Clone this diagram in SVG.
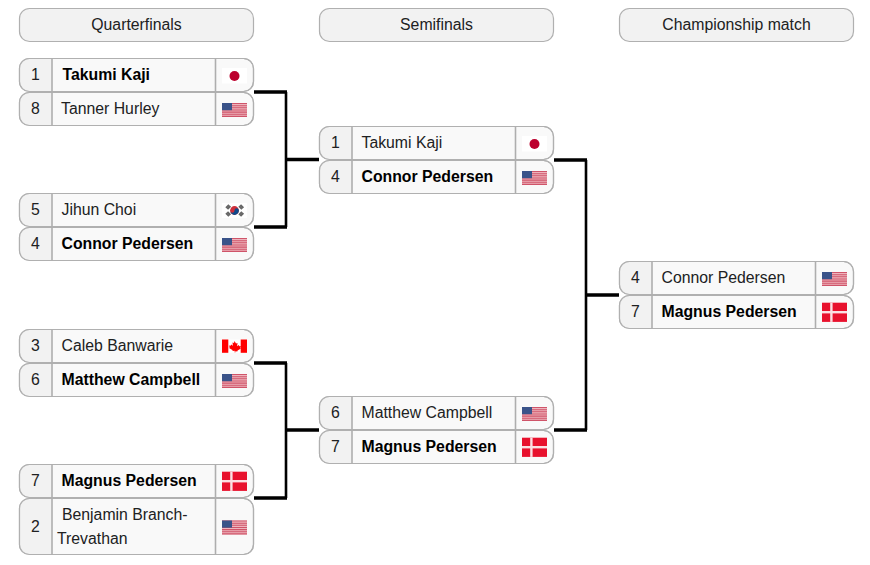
<svg xmlns="http://www.w3.org/2000/svg" width="870" height="565" viewBox="0 0 870 565">
<style>
text{font-family:"Liberation Sans",Arial,sans-serif;font-size:15.8px;fill:#202122}
.b{font-weight:bold;fill:#000}
.s{text-anchor:middle}
.box{fill:#f9f9f9;stroke:#b0b0b0;stroke-width:1.2}
.line{fill:none;stroke:#b0b0b0;stroke-width:1.2}
.seed{fill:#f2f2f2}
.head{fill:#f2f2f2;stroke:#b0b0b0;stroke-width:1.2}
.div{stroke:#aeaeae;stroke-width:1.6;fill:none}
.h{stroke:#000;stroke-width:3.6;fill:none}
.v{stroke:#000;stroke-width:2.6;fill:none}
</style>
<defs>
<g id="us"><rect width="25" height="14" fill="#eeb4bd"/>
<path d="M0 .5H25M0 2.7H25M0 4.8H25M0 7H25M0 9.1H25M0 11.3H25M0 13.4H25" stroke="#cf5469" stroke-width="1.1" fill="none"/>
<rect width="10" height="7.2" fill="#3a5389"/></g>
<g id="jp"><rect width="25" height="15.500" fill="#fff"/><circle cx="12.500" cy="8" r="5" fill="#bc002d"/></g>
<g id="dk"><rect width="25" height="19.200" fill="#e8112d"/><rect x="8.200" width="2.400" height="19.200" fill="#fbdfe3"/><rect y="8.300" width="25" height="2.400" fill="#fbdfe3"/></g>
<g id="ca"><rect width="25" height="13.300" fill="#fff"/><rect width="6.300" height="13.300" fill="#f00"/><rect x="18.700" width="6.300" height="13.300" fill="#f00"/><path d="M12.500 1.500L14 4l1.500-.6-.4 3.400 1.700-1.300.6 1.300 1.500-.2-.6 2 .6.500-3.300 2-.3 1-2-.3V13h-.6v-1.700l-2 .3-.3-1-3.300-2 .6-.5-.6-2 1.500.2.600-1.300 1.700 1.300-.4-3.400 1.500.6z" fill="#f00"/></g>
<g id="kr"><rect width="25" height="15" fill="#fff"/><circle cx="12.500" cy="7.500" r="4.400" fill="#cd2e3a"/><path d="M8.100 7.500a4.400 4.400 0 0 0 8.800 0a2.200 2.200 0 0 0-4.400 0a2.200 2.200 0 0 1-4.400 0z" fill="#0f4a8a"/><path d="M4 4.800L7 1.800M5.400 6.200L8.400 3.200M17 3.200L20 6.200M18.400 1.800L21.400 4.800M4 10.200L7 13.200M5.400 8.800L8.400 11.800M17 11.800L20 8.800M18.400 13.200L21.400 10.200" stroke="#666" stroke-width="1.900" fill="none"/></g>
</defs>
<g id="connectors">
<path class="h" d="M254 92H287M254 227H287M286 159.500H319"/><path class="v" d="M286 92V227"/>
<path class="h" d="M254 363H287M254 498H287M286 430H319"/><path class="v" d="M286 363V498"/>
<path class="h" d="M554 160H587M554 430H587M586 295H619"/><path class="v" d="M586 160V430"/>
</g>
<g id="head-qf"><rect class="head" x="19.500" y="8.500" width="234" height="33" rx="10"/><text class="s" x="136.500" y="30">Quarterfinals</text></g>
<g id="head-sf"><rect class="head" x="319.500" y="8.500" width="234" height="33" rx="10"/><text class="s" x="436.500" y="30">Semifinals</text></g>
<g id="head-f"><rect class="head" x="619.500" y="8.500" width="234" height="33" rx="10"/><text class="s" x="736.500" y="30">Championship match</text></g>

<g id="qf1-1" transform="translate(19.500 58.500)"><rect class="box" width="234" height="33" rx="10"/><path class="seed" d="M32.500 0H10A10 10 0 0 0 0 10V23A10 10 0 0 0 10 33H32.500Z"/><rect class="line" width="234" height="33" rx="10"/><path class="div" d="M32.500 0V33M196 0V33"/><text class="s" x="16" y="21.500">1</text><text class="b" x="43" y="21.500">Takumi Kaji</text><use href="#jp" x="202.500" y="9.500"/></g>
<g id="qf1-2" transform="translate(19.500 92.500)"><rect class="box" width="234" height="33" rx="10"/><path class="seed" d="M32.500 0H10A10 10 0 0 0 0 10V23A10 10 0 0 0 10 33H32.500Z"/><rect class="line" width="234" height="33" rx="10"/><path class="div" d="M32.500 0V33M196 0V33"/><text class="s" x="16" y="21.500">8</text><text x="41.500" y="21.500">Tanner Hurley</text><use href="#us" x="202.500" y="10.500"/></g>
<g id="qf2-1" transform="translate(19.500 193.500)"><rect class="box" width="234" height="33" rx="10"/><path class="seed" d="M32.500 0H10A10 10 0 0 0 0 10V23A10 10 0 0 0 10 33H32.500Z"/><rect class="line" width="234" height="33" rx="10"/><path class="div" d="M32.500 0V33M196 0V33"/><text class="s" x="16" y="21.500">5</text><text x="42" y="21.500">Jihun Choi</text><use href="#kr" x="202.500" y="9.500"/></g>
<g id="qf2-2" transform="translate(19.500 227.500)"><rect class="box" width="234" height="33" rx="10"/><path class="seed" d="M32.500 0H10A10 10 0 0 0 0 10V23A10 10 0 0 0 10 33H32.500Z"/><rect class="line" width="234" height="33" rx="10"/><path class="div" d="M32.500 0V33M196 0V33"/><text class="s" x="16" y="21.500">4</text><text class="b" x="42" y="21.500">Connor Pedersen</text><use href="#us" x="202.500" y="10.500"/></g>
<g id="qf3-1" transform="translate(19.500 329.500)"><rect class="box" width="234" height="33" rx="10"/><path class="seed" d="M32.500 0H10A10 10 0 0 0 0 10V23A10 10 0 0 0 10 33H32.500Z"/><rect class="line" width="234" height="33" rx="10"/><path class="div" d="M32.500 0V33M196 0V33"/><text class="s" x="16" y="21.500">3</text><text x="42" y="21.500">Caleb Banwarie</text><use href="#ca" x="202.500" y="10"/></g>
<g id="qf3-2" transform="translate(19.500 363.500)"><rect class="box" width="234" height="33" rx="10"/><path class="seed" d="M32.500 0H10A10 10 0 0 0 0 10V23A10 10 0 0 0 10 33H32.500Z"/><rect class="line" width="234" height="33" rx="10"/><path class="div" d="M32.500 0V33M196 0V33"/><text class="s" x="16" y="21.500">6</text><text class="b" x="42" y="21.500">Matthew Campbell</text><use href="#us" x="202.500" y="10.500"/></g>
<g id="qf4-1" transform="translate(19.500 464.500)"><rect class="box" width="234" height="33" rx="10"/><path class="seed" d="M32.500 0H10A10 10 0 0 0 0 10V23A10 10 0 0 0 10 33H32.500Z"/><rect class="line" width="234" height="33" rx="10"/><path class="div" d="M32.500 0V33M196 0V33"/><text class="s" x="16" y="21.500">7</text><text class="b" x="42" y="21.500">Magnus Pedersen</text><use href="#dk" x="202.500" y="7.200"/></g>
<g id="qf4-2" transform="translate(19.500 498.500)"><rect class="box" width="234" height="56" rx="10"/><path class="seed" d="M32.500 0H10A10 10 0 0 0 0 10V46A10 10 0 0 0 10 56H32.500Z"/><rect class="line" width="234" height="56" rx="10"/><path class="div" d="M32.500 0V56M196 0V56"/><text class="s" x="16" y="33">2</text><text x="42.500" y="21.500">Benjamin Branch-</text><text x="37.500" y="45">Trevathan</text><use href="#us" x="202.500" y="22"/></g>

<g id="sf1-1" transform="translate(319.500 126.500)"><rect class="box" width="234" height="33" rx="10"/><path class="seed" d="M32.500 0H10A10 10 0 0 0 0 10V23A10 10 0 0 0 10 33H32.500Z"/><rect class="line" width="234" height="33" rx="10"/><path class="div" d="M32.500 0V33M196 0V33"/><text class="s" x="16" y="21.500">1</text><text x="42" y="21.500">Takumi Kaji</text><use href="#jp" x="202.500" y="9.500"/></g>
<g id="sf1-2" transform="translate(319.500 160.500)"><rect class="box" width="234" height="33" rx="10"/><path class="seed" d="M32.500 0H10A10 10 0 0 0 0 10V23A10 10 0 0 0 10 33H32.500Z"/><rect class="line" width="234" height="33" rx="10"/><path class="div" d="M32.500 0V33M196 0V33"/><text class="s" x="16" y="21.500">4</text><text class="b" x="42" y="21.500">Connor Pedersen</text><use href="#us" x="202.500" y="10.500"/></g>
<g id="sf2-1" transform="translate(319.500 396.500)"><rect class="box" width="234" height="33" rx="10"/><path class="seed" d="M32.500 0H10A10 10 0 0 0 0 10V23A10 10 0 0 0 10 33H32.500Z"/><rect class="line" width="234" height="33" rx="10"/><path class="div" d="M32.500 0V33M196 0V33"/><text class="s" x="16" y="21.500">6</text><text x="42" y="21.500">Matthew Campbell</text><use href="#us" x="202.500" y="10.500"/></g>
<g id="sf2-2" transform="translate(319.500 430.500)"><rect class="box" width="234" height="33" rx="10"/><path class="seed" d="M32.500 0H10A10 10 0 0 0 0 10V23A10 10 0 0 0 10 33H32.500Z"/><rect class="line" width="234" height="33" rx="10"/><path class="div" d="M32.500 0V33M196 0V33"/><text class="s" x="16" y="21.500">7</text><text class="b" x="42" y="21.500">Magnus Pedersen</text><use href="#dk" x="202.500" y="7.200"/></g>

<g id="f-1" transform="translate(619.500 261.500)"><rect class="box" width="234" height="33" rx="10"/><path class="seed" d="M32.500 0H10A10 10 0 0 0 0 10V23A10 10 0 0 0 10 33H32.500Z"/><rect class="line" width="234" height="33" rx="10"/><path class="div" d="M32.500 0V33M196 0V33"/><text class="s" x="16" y="21.500">4</text><text x="42" y="21.500">Connor Pedersen</text><use href="#us" x="202.500" y="10.500"/></g>
<g id="f-2" transform="translate(619.500 295.500)"><rect class="box" width="234" height="33" rx="10"/><path class="seed" d="M32.500 0H10A10 10 0 0 0 0 10V23A10 10 0 0 0 10 33H32.500Z"/><rect class="line" width="234" height="33" rx="10"/><path class="div" d="M32.500 0V33M196 0V33"/><text class="s" x="16" y="21.500">7</text><text class="b" x="42" y="21.500">Magnus Pedersen</text><use href="#dk" x="202.500" y="7.200"/></g>
</svg>
